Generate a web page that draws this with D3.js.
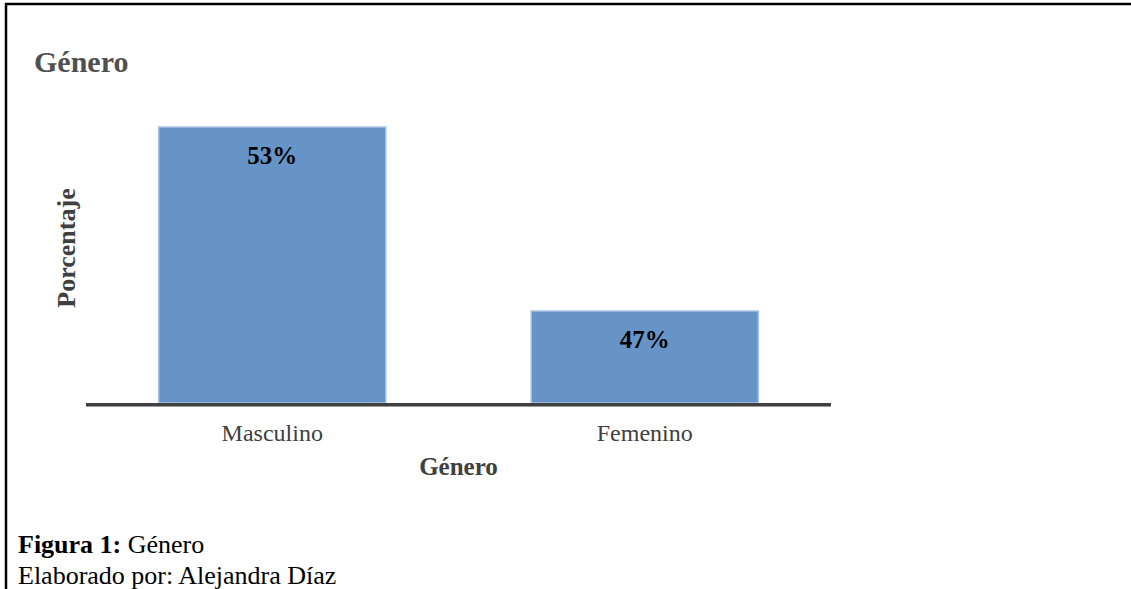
<!DOCTYPE html>
<html>
<head>
<meta charset="utf-8">
<script src="https://cdn.jsdelivr.net/npm/d3@7"></script>
<style>
  body { margin: 0; background: #fff; }
  svg { display: block; font-family: "Liberation Serif", "Times New Roman", serif; }
</style>
</head>
<body>
<div id="chart"></div>
<script>
// Data
const categories = ['Masculino', 'Femenino'];
const values = [53, 47];
const valueLabels = ['53%', '47%'];

const width = 1131, height = 589;
const margin = { top: 127, left: 86, right: 300, bottom: 185 };

const svg = d3.select('#chart').append('svg')
    .attr('width', width)
    .attr('height', height);

// Page frame (top and left rule)
svg.append('line')
    .attr('x1', 5).attr('x2', width)
    .attr('y1', 4).attr('y2', 4)
    .attr('stroke', '#000').attr('stroke-width', 2.5);
svg.append('line')
    .attr('x1', 6).attr('x2', 6)
    .attr('y1', 3).attr('y2', height)
    .attr('stroke', '#000').attr('stroke-width', 2.5);

// Scales
const x = d3.scaleBand()
    .domain(categories)
    .range([margin.left, width - margin.right])
    .paddingInner(0.39)
    .paddingOuter(0.195);

const y = d3.scaleLinear()
    .domain([44, 53])
    .range([height - margin.bottom - 1, margin.top]);

const data = categories.map((c, i) => ({ cat: c, value: values[i], label: valueLabels[i] }));

// Title
svg.append('text')
    .attr('x', 34)
    .attr('y', 72)
    .attr('font-size', 30)
    .attr('font-weight', 'bold')
    .attr('fill', '#505050')
    .text('Género');

// Bars
svg.selectAll('.bar')
    .data(data)
    .join('rect')
    .attr('class', 'bar')
    .attr('x', d => x(d.cat))
    .attr('y', d => y(d.value))
    .attr('width', x.bandwidth())
    .attr('height', d => y.range()[0] - y(d.value))
    .attr('fill', '#6794c7')
    .attr('stroke', '#a9c3e4')
    .attr('stroke-width', 1.5);

// Value labels
svg.selectAll('.val')
    .data(data)
    .join('text')
    .attr('class', 'val')
    .attr('x', d => x(d.cat) + x.bandwidth() / 2)
    .attr('y', d => y(d.value) + 37)
    .attr('text-anchor', 'middle')
    .attr('font-size', 25)
    .attr('font-weight', 'bold')
    .attr('fill', '#000')
    .text(d => d.label);

// X axis baseline
const x0 = x.range()[0], x1 = x.range()[1];
const yBase = y.range()[0] + 1.5;
svg.append('line')
    .attr('x1', x0).attr('x2', x1)
    .attr('y1', yBase + 1.5).attr('y2', yBase + 1.5)
    .attr('stroke', '#9a9a9a').attr('stroke-width', 2);
svg.append('line')
    .attr('x1', x0).attr('x2', x1)
    .attr('y1', yBase).attr('y2', yBase)
    .attr('stroke', '#404040').attr('stroke-width', 3);

// Category labels
svg.selectAll('.cat')
    .data(categories)
    .join('text')
    .attr('class', 'cat')
    .attr('x', d => x(d) + x.bandwidth() / 2)
    .attr('y', 441)
    .attr('text-anchor', 'middle')
    .attr('font-size', 24)
    .attr('fill', '#404040')
    .text(d => d);

// Axis titles
svg.append('text')
    .attr('x', (x0 + x1) / 2)
    .attr('y', 475)
    .attr('text-anchor', 'middle')
    .attr('font-size', 25)
    .attr('font-weight', 'bold')
    .attr('fill', '#404040')
    .text('Género');

svg.append('text')
    .attr('transform', `translate(75,${(y.range()[0] + y.range()[1]) / 2 - 17}) rotate(-90)`)
    .attr('text-anchor', 'middle')
    .attr('font-size', 26)
    .attr('font-weight', 'bold')
    .attr('fill', '#404040')
    .text('Porcentaje');

// Caption
const caption = svg.append('text')
    .attr('x', 18)
    .attr('y', 553)
    .attr('font-size', 26)
    .attr('fill', '#000');
caption.append('tspan').attr('font-weight', 'bold').text('Figura 1:');
caption.append('tspan').text(' Género');

svg.append('text')
    .attr('x', 18)
    .attr('y', 584)
    .attr('font-size', 26)
    .attr('fill', '#000')
    .text('Elaborado por: Alejandra Díaz');
</script>
</body>
</html>
